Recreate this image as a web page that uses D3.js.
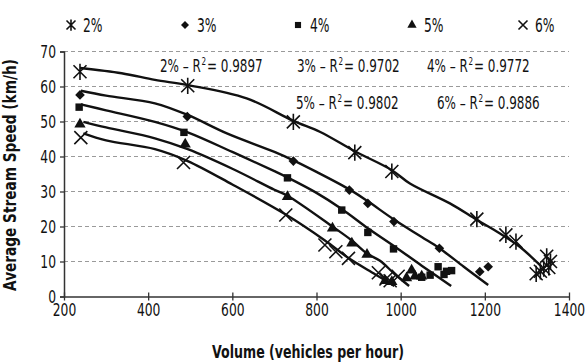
<!DOCTYPE html>
<html>
<head>
<meta charset="UTF-8">
<script src="https://d3js.org/d3.v7.min.js"></script>
<style>
  body { margin: 0; background: #fff; }
  text { font-family: 'DejaVu Sans Condensed', 'DejaVu Sans', sans-serif; fill: #111; }
</style>
</head>
<body>
<svg id="chart" width="586" height="363"></svg>
<script>
// series names and legend
var series = ["2%", "3%", "4%", "5%", "6%"];
var r2Labels = ["0.9897", "0.9702", "0.9772", "0.9802", "0.9886"];

// observed points (volume, speed)
var vol2 = [238, 494, 745, 891, 979, 1181, 1250, 1274, 1322, 1332, 1340, 1347, 1356, 1352];
var spd2 = [64.2, 60.2, 49.9, 41.1, 35.7, 22.1, 17.6, 15.7, 6.5, 7.2, 8.0, 11.5, 10.0, 8.3];
var vol3 = [238, 493, 745, 878, 922, 984, 1092, 1188, 1208];
var spd3 = [57.6, 51.4, 38.7, 30.4, 26.6, 21.4, 13.8, 7.1, 8.5];
var vol4 = [236, 485, 731, 860, 922, 983, 1050, 1070, 1089, 1103, 1109, 1121];
var spd4 = [54.1, 46.9, 33.9, 24.7, 18.3, 13.6, 5.5, 6.1, 8.5, 6.3, 7.2, 7.4];
var vol5 = [238, 488, 731, 838, 884, 920, 963, 979, 1014, 1026, 1034, 1050];
var spd5 = [49.2, 43.5, 28.5, 19.5, 15.2, 12.0, 4.5, 4.2, 5.3, 7.5, 5.8, 5.8];
var vol6 = [240, 484, 727, 820, 846, 876, 947, 965, 975, 994];
var spd6 = [45.4, 38.3, 23.3, 14.7, 12.8, 10.9, 6.8, 5.0, 4.5, 5.8];

// trend lines
var t2x = [238, 337, 416, 494, 634, 745, 809, 891, 979, 1022, 1117, 1181, 1236, 1283, 1335];
var t2y = [65.3, 63.8, 61.9, 60.4, 56.6, 50.2, 47.0, 41.5, 36.1, 32.3, 26.6, 21.9, 18.0, 14.2, 8.5];
var t3x = [240, 300, 416, 495, 587, 700, 745, 800, 878, 922, 984, 1050, 1092, 1150, 1208];
var t3y = [58.8, 57.4, 55.2, 51.8, 46.6, 41.3, 38.9, 35.6, 30.6, 27.2, 22.0, 17.0, 13.8, 8.5, 3.3];
var t4x = [240, 300, 416, 494, 600, 700, 731, 800, 860, 922, 983, 1050, 1120];
var t4y = [54.9, 53.2, 49.9, 46.9, 41.3, 35.8, 34.0, 29.6, 25.0, 19.5, 14.5, 8.8, 3.0];
var t5x = [246, 300, 416, 494, 600, 700, 731, 838, 884, 920, 951, 985, 1020];
var t5y = [49.9, 48.3, 45.2, 42.1, 36.5, 30.5, 28.8, 20.0, 16.0, 12.3, 10.2, 6.5, 3.0];
var t6x = [246, 300, 416, 494, 600, 727, 820, 876, 940, 985];
var t6y = [46.6, 44.6, 42.1, 38.7, 32.0, 23.4, 16.0, 11.0, 6.3, 3.0];

var xTicks = [200, 400, 600, 800, 1000, 1200, 1400];
var yTicks = [0, 10, 20, 30, 40, 50, 60, 70];

var pts = [[vol2, spd2], [vol3, spd3], [vol4, spd4], [vol5, spd5], [vol6, spd6]];
var trends = [[t2x, t2y], [t3x, t3y], [t4x, t4y], [t5x, t5y], [t6x, t6y]];

var svg = d3.select("#chart");
var x = d3.scaleLinear().domain([200, 1400]).range([64, 569]);
var y = d3.scaleLinear().domain([0, 70]).range([296.5, 51.5]);

// the reference uses a narrow font, so squeeze text horizontally around its anchor
function squeeze(sel, k) {
  sel.each(function () {
    var t = d3.select(this);
    var tx = +t.attr("x") || 0, ty = +t.attr("y") || 0;
    var pre = t.attr("transform") || "";
    t.attr("x", 0).attr("y", 0)
      .attr("transform", pre + " translate(" + tx + "," + ty + ") scale(" + k + ",1)");
  });
}

// gridlines
svg.append("g").selectAll("line")
  .data(yTicks.filter(function (d) { return d > 0; }))
  .join("line")
  .attr("x1", x(200)).attr("x2", x(1400))
  .attr("y1", function (d) { return y(d); }).attr("y2", function (d) { return y(d); })
  .attr("stroke", "#9a9a9a").attr("stroke-width", 1).attr("stroke-dasharray", "4,3");

// axes
var yAxis = svg.append("g").attr("transform", "translate(" + x(200) + ",0)")
  .call(d3.axisLeft(y).tickValues(yTicks).tickSize(4).tickPadding(4));
var xAxis = svg.append("g").attr("transform", "translate(0," + y(0) + ")")
  .call(d3.axisBottom(x).tickValues(xTicks).tickFormat(d3.format("d"))
    .tickSizeInner(-4).tickSizeOuter(0).tickPadding(7));
[yAxis, xAxis].forEach(function (a) {
  a.select(".domain").attr("stroke", "#333").attr("stroke-width", 1.5);
  a.selectAll(".tick line").attr("stroke", "#333").attr("stroke-width", 1.3);
  a.selectAll("text").attr("font-size", 18).attr("fill", "#111")
    .style("font-family", "'DejaVu Sans Condensed', 'DejaVu Sans', sans-serif");
  squeeze(a.selectAll("text"), 0.76);
});
xAxis.selectAll(".tick line").attr("y1", 4);

// marker shapes
function marker(g, i, size) {
  var s = size;
  if (i === 0) {
    g.append("path").attr("d", "M" + (-s) + "," + (-s) + "L" + s + "," + s + "M" + (-s) + "," + s + "L" + s + "," + (-s) + "M0," + (-s * 1.25) + "L0," + (s * 1.25))
      .attr("stroke", "#111").attr("stroke-width", 1.6).attr("fill", "none");
  } else if (i === 1) {
    g.append("path").attr("d", d3.symbol().type(d3.symbolSquare).size(s * s * 2.2)())
      .attr("transform", "rotate(45)").attr("fill", "#111");
  } else if (i === 2) {
    g.append("path").attr("d", d3.symbol().type(d3.symbolSquare).size(s * s * 2.6)()).attr("fill", "#111");
  } else if (i === 3) {
    g.append("path").attr("d", d3.symbol().type(d3.symbolTriangle).size(s * s * 2.6)()).attr("fill", "#111");
  } else {
    g.append("path").attr("d", "M" + (-s) + "," + (-s) + "L" + s + "," + s + "M" + (-s) + "," + s + "L" + s + "," + (-s))
      .attr("stroke", "#111").attr("stroke-width", 1.6).attr("fill", "none");
  }
}

// trend lines
var line = d3.line()
  .x(function (d) { return x(d[0]); })
  .y(function (d) { return y(d[1]); })
  .curve(d3.curveCatmullRom);
trends.forEach(function (t) {
  svg.append("path")
    .datum(d3.zip(t[0], t[1]))
    .attr("d", line)
    .attr("fill", "none").attr("stroke", "#111").attr("stroke-width", 2.4);
});

// points
pts.forEach(function (p, i) {
  d3.zip(p[0], p[1]).forEach(function (d) {
    var g = svg.append("g").attr("transform", "translate(" + x(d[0]) + "," + y(d[1]) + ")");
    marker(g, i, i === 0 || i === 4 ? 6.5 : 4.6);
  });
});

// legend
var legendX = [71, 185, 298, 412, 523];
series.forEach(function (name, i) {
  var g = svg.append("g").attr("transform", "translate(" + legendX[i] + ",25)");
  marker(g, i, i === 0 || i === 4 ? 4.5 : 3.8);
  var t = g.append("text").attr("x", 12).attr("y", 7).attr("font-size", 19).text(name);
  squeeze(t, 0.72);
});

// R² labels, built from three pieces so the superscript sits right
var r2Pos = [[160, 72], [297, 72], [427, 72], [296, 109], [437, 109]];
series.forEach(function (name, i) {
  var g = svg.append("g").attr("transform", "translate(" + r2Pos[i][0] + "," + r2Pos[i][1] + ")");
  var a = g.append("text").attr("font-size", 18).text(name + " \u2013 R");
  var wa = a.node().getComputedTextLength() * 0.74;
  squeeze(a, 0.74);
  var b = g.append("text").attr("x", wa + 0.5).attr("y", -7).attr("font-size", 10).text("2");
  squeeze(b, 0.8);
  var c = g.append("text").attr("x", wa + 6).attr("font-size", 18).text("= " + r2Labels[i]);
  squeeze(c, 0.74);
});

// axis titles
var xt = svg.append("text").attr("x", 308).attr("y", 358).attr("text-anchor", "middle")
  .attr("font-size", 17).attr("font-weight", "bold").text("Volume (vehicles per hour)");
squeeze(xt, 192 / xt.node().getComputedTextLength());
var yt = svg.append("text").attr("transform", "translate(16,175) rotate(-90)").attr("text-anchor", "middle")
  .attr("font-size", 17).attr("font-weight", "bold").text("Average Stream Speed (km/h)");
squeeze(yt, 232 / yt.node().getComputedTextLength());
</script>
</body>
</html>
